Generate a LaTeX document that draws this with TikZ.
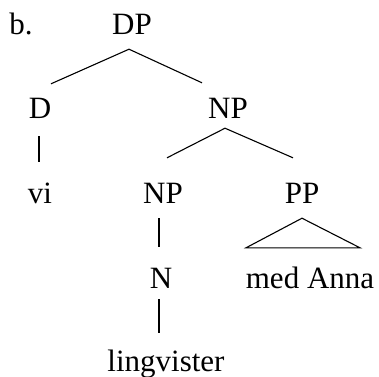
\documentclass[tikz,border=0pt]{standalone}
\usepackage{fontspec}
\setmainfont{Liberation Serif}
\begin{document}
\begin{tikzpicture}[x=1pt,y=1pt,
  lbl/.style={anchor=base,inner sep=0pt,text height=22pt,text depth=7pt,font=\fontsize{31}{37}\selectfont},
  edge/.style={line width=1.1pt}]
\useasboundingbox (0,0) rectangle (379,-376);
\node[lbl] (b) at (21,-34) {b.};
\node[lbl] (DP) at (132,-34) {DP};
\node[lbl] (D) at (40,-118) {D};
\node[lbl] (NPa) at (228,-118) {NP};
\node[lbl] (vi) at (40,-203) {vi};
\node[lbl] (NPb) at (163,-203) {NP};
\node[lbl] (PP) at (302,-203) {PP};
\node[lbl] (N) at (161,-288) {N};
\node[lbl] (med) at (310,-288) {med Anna};
\node[lbl] (ling) at (166,-371) {lingvister};
\draw[edge] ([shift={(11,12)}]D.north) -- ([shift={(-3,-8)}]DP.south) -- ([shift={(-26,13)}]NPa.north);
\draw[edge] ([shift={(-1,-11)}]D.south) -- ([shift={(-1,19)}]vi.north);
\draw[edge] ([shift={(4,23)}]NPb.north) -- ([shift={(-3,-3)}]NPa.south) -- ([shift={(-9,23)}]PP.north);
\draw[edge] ([shift={(-4,-8)}]NPb.south) -- ([shift={(-2,19)}]N.north);
\draw[edge,line join=miter] ([shift={(0,-8)}]PP.south) -- ([shift={(50,18)}]med.north) -- ([shift={(-64,18)}]med.north) -- cycle;
\draw[edge] ([shift={(-2,-4)}]N.south) -- ([shift={(-7,16)}]ling.north);
\end{tikzpicture}
\end{document}
